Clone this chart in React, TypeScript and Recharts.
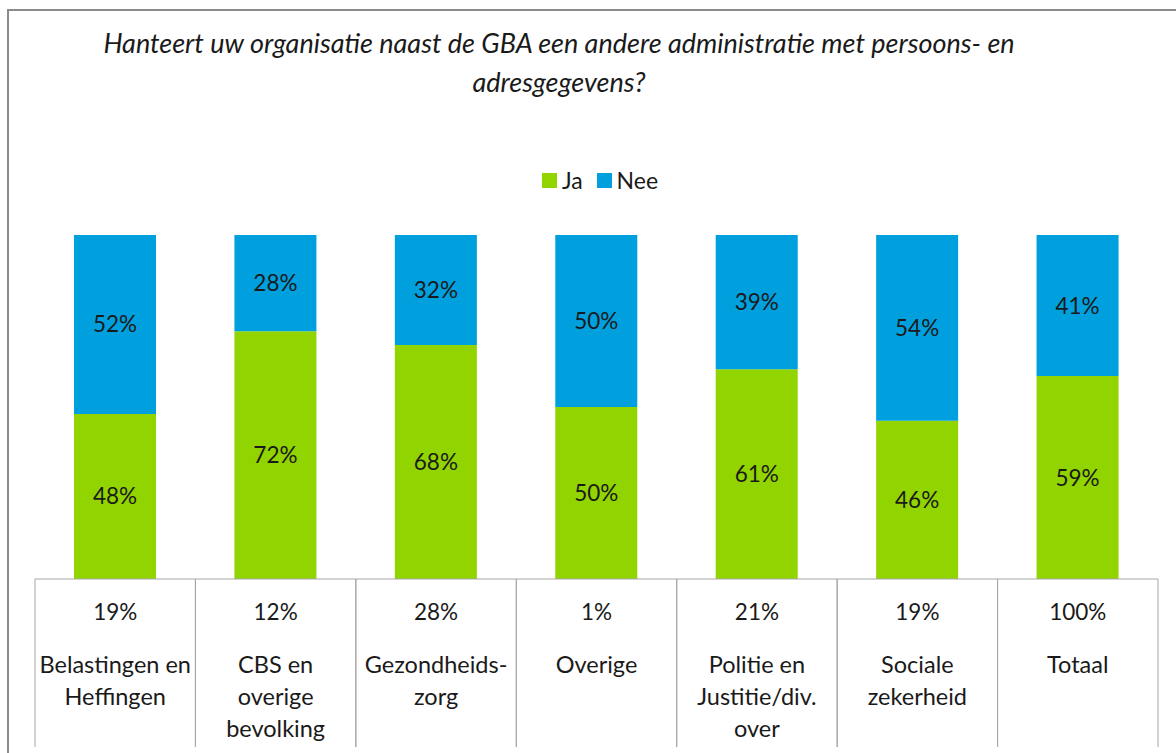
import React from 'react';
import { BarChart, Bar, XAxis, YAxis, Legend, LabelList } from 'recharts';

const categoryLines: string[][] = [
  ['Belastingen en', 'Heffingen'],
  ['CBS en', 'overige', 'bevolking'],
  ['Gezondheids-', 'zorg'],
  ['Overige'],
  ['Politie en', 'Justitie/div.', 'over'],
  ['Sociale', 'zekerheid'],
  ['Totaal'],
];
const shares = ['19%', '12%', '28%', '1%', '21%', '19%', '100%'];
const jaValues = [48, 72, 68, 50, 61, 46, 59];
const neeValues = [52, 28, 32, 50, 39, 54, 41];
const titleLines = [
  'Hanteert uw organisatie naast de GBA een andere administratie met persoons- en',
  'adresgegevens?',
];

const data = categoryLines.map((lines, i) => ({
  name: lines.join(' '),
  idx: i,
  ja: jaValues[i],
  nee: neeValues[i],
}));

const W = 1176;
const H = 753;
const M = { top: 235, left: 35, right: 18, bottom: 0 };
const AXIS_H = 174;
const CELL_W = (W - M.left - M.right) / categoryLines.length;
const GREEN = '#92D400';
const BLUE = '#00A0DF';
const GRID = '#a6a6a6';
const FONT = 'Lato, "Open Sans", sans-serif';
const TEXT = '#1a1a1a';

const TableTick = (props: any) => {
  const { x, y, payload } = props;
  const i = payload.index;
  const lines = categoryLines[i] || [];
  return (
    <g>
      <line x1={x - CELL_W / 2} y1={y} x2={x - CELL_W / 2} y2={y + 168} stroke={GRID} strokeWidth={1} />
      <line x1={x + CELL_W / 2} y1={y} x2={x + CELL_W / 2} y2={y + 168} stroke={GRID} strokeWidth={1} />
      <text x={x} y={y + 41} textAnchor="middle" fontSize={22.5} fill={TEXT} fontFamily={FONT}>
        {shares[i]}
      </text>
      {lines.map((l, k) => (
        <text key={k} x={x} y={y + 94 + k * 32} textAnchor="middle" fontSize={23.5} fill={TEXT} fontFamily={FONT}>
          {l}
        </text>
      ))}
    </g>
  );
};

const LegendContent = () => (
  <div style={{ display: 'flex', justifyContent: 'center', alignItems: 'center', fontFamily: FONT, fontSize: 23, color: TEXT }}>
    <span style={{ display: 'inline-block', width: 15, height: 15, background: GREEN, marginRight: 5 }} />
    <span style={{ marginRight: 14 }}>Ja</span>
    <span style={{ display: 'inline-block', width: 15, height: 15, background: BLUE, marginRight: 5 }} />
    <span>Nee</span>
  </div>
);

export default function App() {
  return (
    <div style={{ position: 'absolute', left: 0, top: 0, width: W, height: H, background: '#fff', overflow: 'hidden' }}>
      <div style={{ position: 'absolute', left: 7, top: 9, width: W, height: 2, background: '#8c8c8c' }} />
      <div style={{ position: 'absolute', left: 7, top: 9, width: 2, height: H, background: '#8c8c8c' }} />
      {titleLines.map((t, k) => (
        <div
          key={k}
          style={{
            position: 'absolute',
            left: 0,
            width: 1118,
            top: 26 + k * 39,
            textAlign: 'center',
            fontFamily: FONT,
            fontStyle: 'italic',
            fontSize: 27,
            color: TEXT,
            whiteSpace: 'nowrap',
          }}
        >
          {t}
        </div>
      ))}
      <BarChart width={W} height={H} data={data} margin={M} barSize={82}>
        <YAxis hide domain={[0, 100]} />
        <XAxis
          dataKey="name"
          height={AXIS_H}
          interval={0}
          tickLine={false}
          tickSize={0}
          tickMargin={0}
          axisLine={{ stroke: GRID, strokeWidth: 1 }}
          tick={<TableTick />}
        />
        <Legend
          verticalAlign="middle"
          align="center"
          content={<LegendContent />}
          wrapperStyle={{ top: 166, left: 0, width: 1200 }}
        />
        <Bar dataKey="ja" name="Ja" stackId="a" fill={GREEN} isAnimationActive={false}>
          <LabelList dataKey="ja" position="center" formatter={(v: any) => `${v}%`} fontSize={22.5} fill={TEXT} fontFamily={FONT} />
        </Bar>
        <Bar dataKey="nee" name="Nee" stackId="a" fill={BLUE} isAnimationActive={false}>
          <LabelList dataKey="nee" position="center" formatter={(v: any) => `${v}%`} fontSize={22.5} fill={TEXT} fontFamily={FONT} />
        </Bar>
      </BarChart>
    </div>
  );
}
